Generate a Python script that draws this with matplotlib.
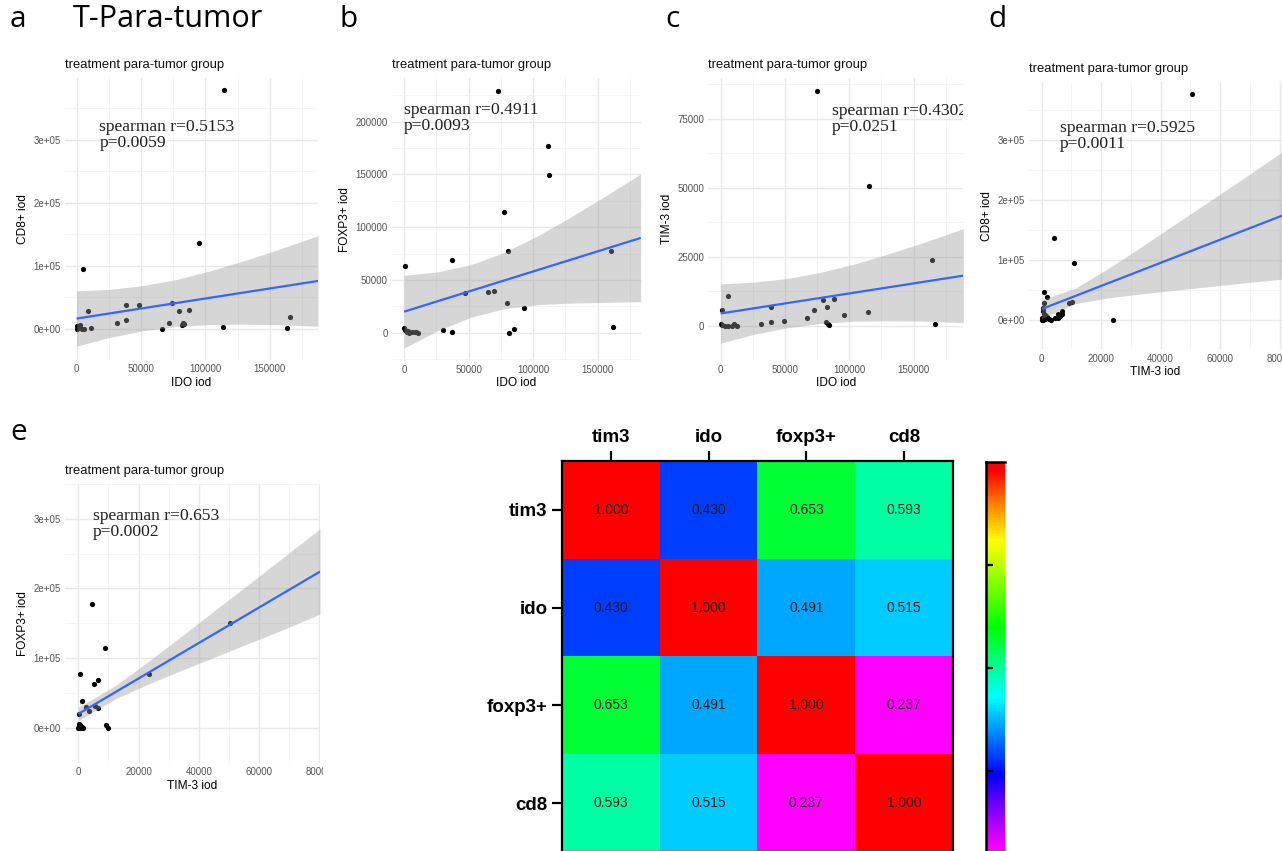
import numpy as np
import matplotlib
matplotlib.use("Agg")
import matplotlib.pyplot as plt
from matplotlib.colors import LinearSegmentedColormap
from matplotlib.transforms import Bbox, TransformedBbox

plt.rcParams['font.family'] = ['Liberation Sans', 'DejaVu Sans']

W, H, DPI = 1282, 851, 100

# ---------------- axis tick data ----------------
ido_ticks = [0, 50000, 100000, 150000]
ido_ticklabels = ["0", "50000", "100000", "150000"]
ido_minor = [25000, 75000, 125000, 175000]
tim3x_ticks = [0, 20000, 40000, 60000, 80000]
tim3x_ticklabels = ["0", "20000", "40000", "60000", "80000"]
tim3x_minor = [10000, 30000, 50000, 70000]
sci_ticks = [0, 100000, 200000, 300000]
sci_ticklabels = ["0e+00", "1e+05", "2e+05", "3e+05"]
sci_minor = [-50000, 50000, 150000, 250000, 350000]
foxp3_ticks = [0, 50000, 100000, 150000, 200000]
foxp3_ticklabels = ["0", "50000", "100000", "150000", "200000"]
foxp3_minor = [-25000, 25000, 75000, 125000, 175000, 225000]
tim3y_ticks = [0, 25000, 50000, 75000]
tim3y_ticklabels = ["0", "25000", "50000", "75000"]
tim3y_minor = [-12500, 12500, 37500, 62500, 87500]

# ---------------- panel a: IDO vs CD8+ ----------------
a_ido = [114300, 95100, 4700, 8500, 38300, 48600, 38300, 31000, 11100, 0, 500, 1800,
         3900, 5700, 74200, 79400, 87400, 71600, 66400, 81700, 82500, 83000, 113700,
         163400, 165400, 1000, 2500]
a_cd8 = [378300, 136300, 95100, 28000, 37500, 38000, 13200, 8500, 300, 0, 4000, 2600,
         0, 0, 40200, 28000, 29000, 9500, 0, 6000, 8500, 7500, 2100, 500, 18000, 1000, 6000]
a_fit_x = [0, 187400]
a_fit_y = [15800, 75500]
a_band_x = [0, 25850, 51700, 77550, 103400, 129250, 155100, 187400]
a_band_hi = [59700, 62200, 68200, 77900, 91400, 107200, 124400, 147400]
a_band_lo = [-28000, -14100, -3400, 3200, 6300, 6900, 6100, 3700]

# ---------------- panel b: IDO vs FOXP3+ ----------------
b_ido = [72500, 111500, 112000, 77400, 80300, 160000, 37400, 1000, 47200, 65000, 70000,
         79800, 93200, 0, 800, 2000, 4000, 6000, 8500, 11000, 30000, 37400, 81000, 85400,
         162100, 3000, 9000]
b_foxp3 = [229400, 177300, 149400, 114400, 77100, 77100, 68900, 63200, 37600, 38200, 39500,
           27800, 23100, 4000, 2500, 1000, 0, 1000, 1000, 0, 2500, 950, 0, 3200, 5000, 2000, 500]
b_fit_x = [0, 183250]
b_fit_y = [19900, 89800]
b_band_x = [0, 25810, 51620, 77430, 103240, 129050, 154860, 183250]
b_band_hi = [54300, 57600, 64400, 76000, 91600, 109600, 128800, 150400]
b_band_lo = [-14500, 1800, 14600, 22600, 26500, 28100, 28600, 29400]

# ---------------- panel c: IDO vs TIM-3 ----------------
c_ido = [74600, 115000, 164000, 5700, 1000, 38900, 79800, 88100, 72300, 82400, 67100,
         96100, 114300, 49000, 38900, 31600, 81900, 83200, 84200, 166600, 0, 1000, 3600,
         5700, 8500, 10400, 12400]
c_tim3 = [85200, 50700, 23900, 10700, 5700, 6900, 9300, 9900, 5700, 6800, 3000, 3900, 5100,
          1700, 1400, 830, 1300, 600, 360, 600, 700, 240, 0, 0, 0, 700, 0]
c_fit_x = [0, 188600]
c_fit_y = [4520, 18210]
c_band_x = [0, 25900, 51800, 77700, 103600, 129500, 155400, 188600]
c_band_hi = [15240, 15850, 17190, 19400, 22400, 25970, 29830, 35240]
c_band_lo = [-6190, -3040, -620, 930, 1690, 1890, 1790, 1190]

# ---------------- panel d: TIM-3 vs CD8+ ----------------
d_tim3 = [50530, 4150, 10760, 900, 1700, 780, 9300, 10080, 1000, 500, 0, 1500, 3100, 5400,
          6200, 6700, 7000, 5600, 23860, 200, 800, 2500, 300, 1200, 600, 4500, 1900]
d_cd8 = [377700, 135700, 94300, 46600, 38300, 28000, 28000, 29000, 7300, 0, 0, 6200, 0, 2000,
         6000, 9500, 13500, 8500, 0, 3000, 9000, 500, 15000, 1000, 20000, 3000, 4000]
d_fit_x = [0, 80780]
d_fit_y = [17600, 173600]
d_band_x = [0, 11200, 22400, 33600, 44800, 56000, 67200, 80780]
d_band_hi = [33300, 52000, 85500, 122000, 159300, 196700, 233900, 279800]
d_band_lo = [1900, 26500, 36300, 43000, 49000, 54800, 60900, 67400]

# ---------------- panel e: TIM-3 vs FOXP3+ ----------------
e_tim3 = [4650, 8970, 50360, 23570, 550, 6420, 5200, 1220, 330, 2550, 5530, 6420, 3540, 9190,
          9960, 0, 300, 600, 900, 1200, 200, 700, 1500, 400, 1000, 100]
e_foxp3 = [177300, 114400, 150400, 77200, 77200, 68900, 62900, 38400, 19800, 29700, 30500,
           27700, 23700, 4000, 0, 0, 2000, 4000, 0, 1500, 5000, 1000, 0, 3000, 500, 1000]
e_fit_x = [0, 80240]
e_fit_y = [19800, 224000]
e_band_x = [0, 12730, 23800, 34860, 45930, 57000, 68070, 80240]
e_band_hi = [29300, 61700, 96900, 133400, 170500, 207300, 244500, 285500]
e_band_lo = [10300, 42500, 63700, 83500, 102500, 121900, 140900, 163200]

# ---------------- heatmap ----------------
hm_labels = ["tim3", "ido", "foxp3+", "cd8"]
hm_values = [[1.000, 0.430, 0.653, 0.593],
             [0.430, 1.000, 0.491, 0.515],
             [0.653, 0.491, 1.000, 0.237],
             [0.593, 0.515, 0.237, 1.000]]
cbar_ticks = [0.4, 0.6, 0.8]

# =====================================================
fig = plt.figure(figsize=(W / DPI, H / DPI), dpi=DPI)
fig.patch.set_facecolor("white")


def px_axes(left, right, top, bottom):
    return fig.add_axes([left / W, 1 - bottom / H, (right - left) / W, (bottom - top) / H])


def scatter_panel(box, xlim, ylim, xt, xtl, xminor, yt, ytl, yminor,
                  xs, ys, fx, fy, bx, blo, bhi, xlabel, ylabel, ann, ann_pos,
                  clip_xlabels_at=None):
    ax = px_axes(*box)
    ax.set_xlim(xlim)
    ax.set_ylim(ylim)
    ax.set_xticks(xt)
    ax.set_xticklabels(xtl)
    ax.set_xticks(xminor, minor=True)
    ax.set_yticks(yt)
    ax.set_yticklabels(ytl)
    ax.set_yticks(yminor, minor=True)
    ax.grid(which="major", color="#E8E8E8", lw=1.0, zorder=0)
    ax.grid(which="minor", color="#F2F2F2", lw=0.6, zorder=0)
    ax.set_axisbelow(True)
    for s in ax.spines.values():
        s.set_visible(False)
    ax.tick_params(which="both", length=0, labelsize=7.0, labelcolor="#555555", pad=3)
    ax.scatter(xs, ys, s=14, color="black", linewidths=0, zorder=2)
    ax.fill_between(bx, blo, bhi, color="#999999", alpha=0.4, linewidth=0, zorder=3)
    ax.plot(fx, fy, color="#3366FF", lw=1.6, zorder=4, solid_capstyle="butt")
    ax.set_xlabel(xlabel, fontsize=8.6, color="black", labelpad=2)
    ax.set_ylabel(ylabel, fontsize=8.6, color="black", labelpad=3)
    ax.set_title("treatment para-tumor group", loc="left", fontsize=9.4, pad=7, color="#111111")
    ax.text(ann_pos[0], ann_pos[1], ann, transform=ax.transAxes, ha="left", va="center",
            family=["Liberation Serif", "DejaVu Serif"], fontsize=12.6, color="#222222",
            linespacing=0.98, clip_on=True, zorder=5)
    if clip_xlabels_at is not None:
        cb = TransformedBbox(Bbox([[0, 0], [clip_xlabels_at / W, 1]]), fig.transFigure)
        for lbl in ax.get_xticklabels():
            lbl.set_clip_box(cb)
            lbl.set_clip_on(True)
    return ax


scatter_panel((65, 318, 78, 360), (-9000, 187400), (-49100, 397800),
              ido_ticks, ido_ticklabels, ido_minor, sci_ticks, sci_ticklabels, sci_minor,
              a_ido, a_cd8, a_fit_x, a_fit_y, a_band_x, a_band_lo, a_band_hi,
              "IDO iod", "CD8+ iod", "spearman r=0.5153\np=0.0059", (0.136, 0.797))

scatter_panel((391.7, 640.7, 78.2, 360.5), (-9550, 183250), (-26360, 241200),
              ido_ticks, ido_ticklabels, ido_minor, foxp3_ticks, foxp3_ticklabels, foxp3_minor,
              b_ido, b_foxp3, b_fit_x, b_fit_y, b_band_x, b_band_lo, b_band_hi,
              "IDO iod", "FOXP3+ iod", "spearman r=0.4911\np=0.0093", (0.049, 0.860))

scatter_panel((708.3, 963.3, 77.8, 360.5), (-9585, 188600), (-11140, 89830),
              ido_ticks, ido_ticklabels, ido_minor, tim3y_ticks, tim3y_ticklabels, tim3y_minor,
              c_ido, c_tim3, c_fit_x, c_fit_y, c_band_x, c_band_lo, c_band_hi,
              "IDO iod", "TIM-3 iod", "spearman r=0.4302\np=0.0251", (0.484, 0.853))

scatter_panel((1029, 1282, 82.2, 349.5), (-4260, 80780), (-18900, 396600),
              tim3x_ticks, tim3x_ticklabels, tim3x_minor, sci_ticks, sci_ticklabels, sci_minor,
              d_tim3, d_cd8, d_fit_x, d_fit_y, d_band_x, d_band_lo, d_band_hi,
              "TIM-3 iod", "CD8+ iod", "spearman r=0.5925\np=0.0011", (0.1225, 0.800))

scatter_panel((65, 320, 483.8, 762.6), (-4430, 80240), (-15000, 316000),
              tim3x_ticks, tim3x_ticklabels, tim3x_minor, sci_ticks, sci_ticklabels, sci_minor,
              e_tim3, e_foxp3, e_fit_x, e_fit_y, e_band_x, e_band_lo, e_band_hi,
              "TIM-3 iod", "FOXP3+ iod", "spearman r=0.653\np=0.0002", (0.109, 0.855),
              clip_xlabels_at=323)

# ---------------- panel letters ----------------
letter_font = ["Open Sans", "DejaVu Sans"]
for txt, x, y in [("a", 10, 26.7), ("b", 340, 26.7), ("c", 665, 26.7), ("d", 988, 26.7),
                  ("e", 10, 440)]:
    fig.text(x / W, 1 - y / H, txt, fontsize=21.5, family=letter_font, va="baseline", ha="left")
fig.text(72.7 / W, 1 - 26.7 / H, "T-Para-tumor", fontsize=22, family=letter_font,
         va="baseline", ha="left")

# ---------------- heatmap ----------------
cmap = LinearSegmentedColormap.from_list(
    "rainbow_mag",
    [(0.0, "#FF00FF"), (0.06, "#FF00FF"), (0.155, "#8000FF"), (0.24, "#0000FF"),
     (0.43, "#00FFFF"), (0.60, "#00FF00"), (0.81, "#FFFF00"), (0.90, "#FF8000"),
     (0.98, "#FF0000"), (1.0, "#FF0000")])

hax = px_axes(562, 953, 461, 852)
vals = np.array(hm_values)
im = hax.imshow(vals, cmap=cmap, vmin=0.2, vmax=1.0, aspect="auto", interpolation="nearest")
hax.xaxis.tick_top()
hax.set_xticks(range(len(hm_labels)))
hax.set_xticklabels(hm_labels, fontsize=13.5, fontweight="bold")
hax.set_yticks(range(len(hm_labels)))
hax.set_yticklabels(hm_labels, fontsize=13.5, fontweight="bold")
hax.tick_params(length=7, width=1.6, pad=3.5, color="black")
for s in hax.spines.values():
    s.set_linewidth(1.6)
    s.set_color("black")
for i in range(vals.shape[0]):
    for j in range(vals.shape[1]):
        hax.text(j, i, f"{vals[i, j]:.3f}", ha="center", va="center", fontsize=10,
                 color="#1a1a1a")

cax = px_axes(986, 1005, 462, 874)
cb = fig.colorbar(im, cax=cax, ticks=cbar_ticks)
cb.outline.set_visible(False)
cax.yaxis.set_ticks_position("left")
cax.tick_params(direction="in", length=5, width=1.6, labelleft=False, labelright=False,
                color="black")
cax.plot([0, 0], [0, 1], transform=cax.transAxes, color="black", lw=1.8, clip_on=False)
cax.plot([0, 1], [1, 1], transform=cax.transAxes, color="black", lw=1.8, clip_on=False)

fig.savefig("out.png", dpi=DPI, facecolor="white")
